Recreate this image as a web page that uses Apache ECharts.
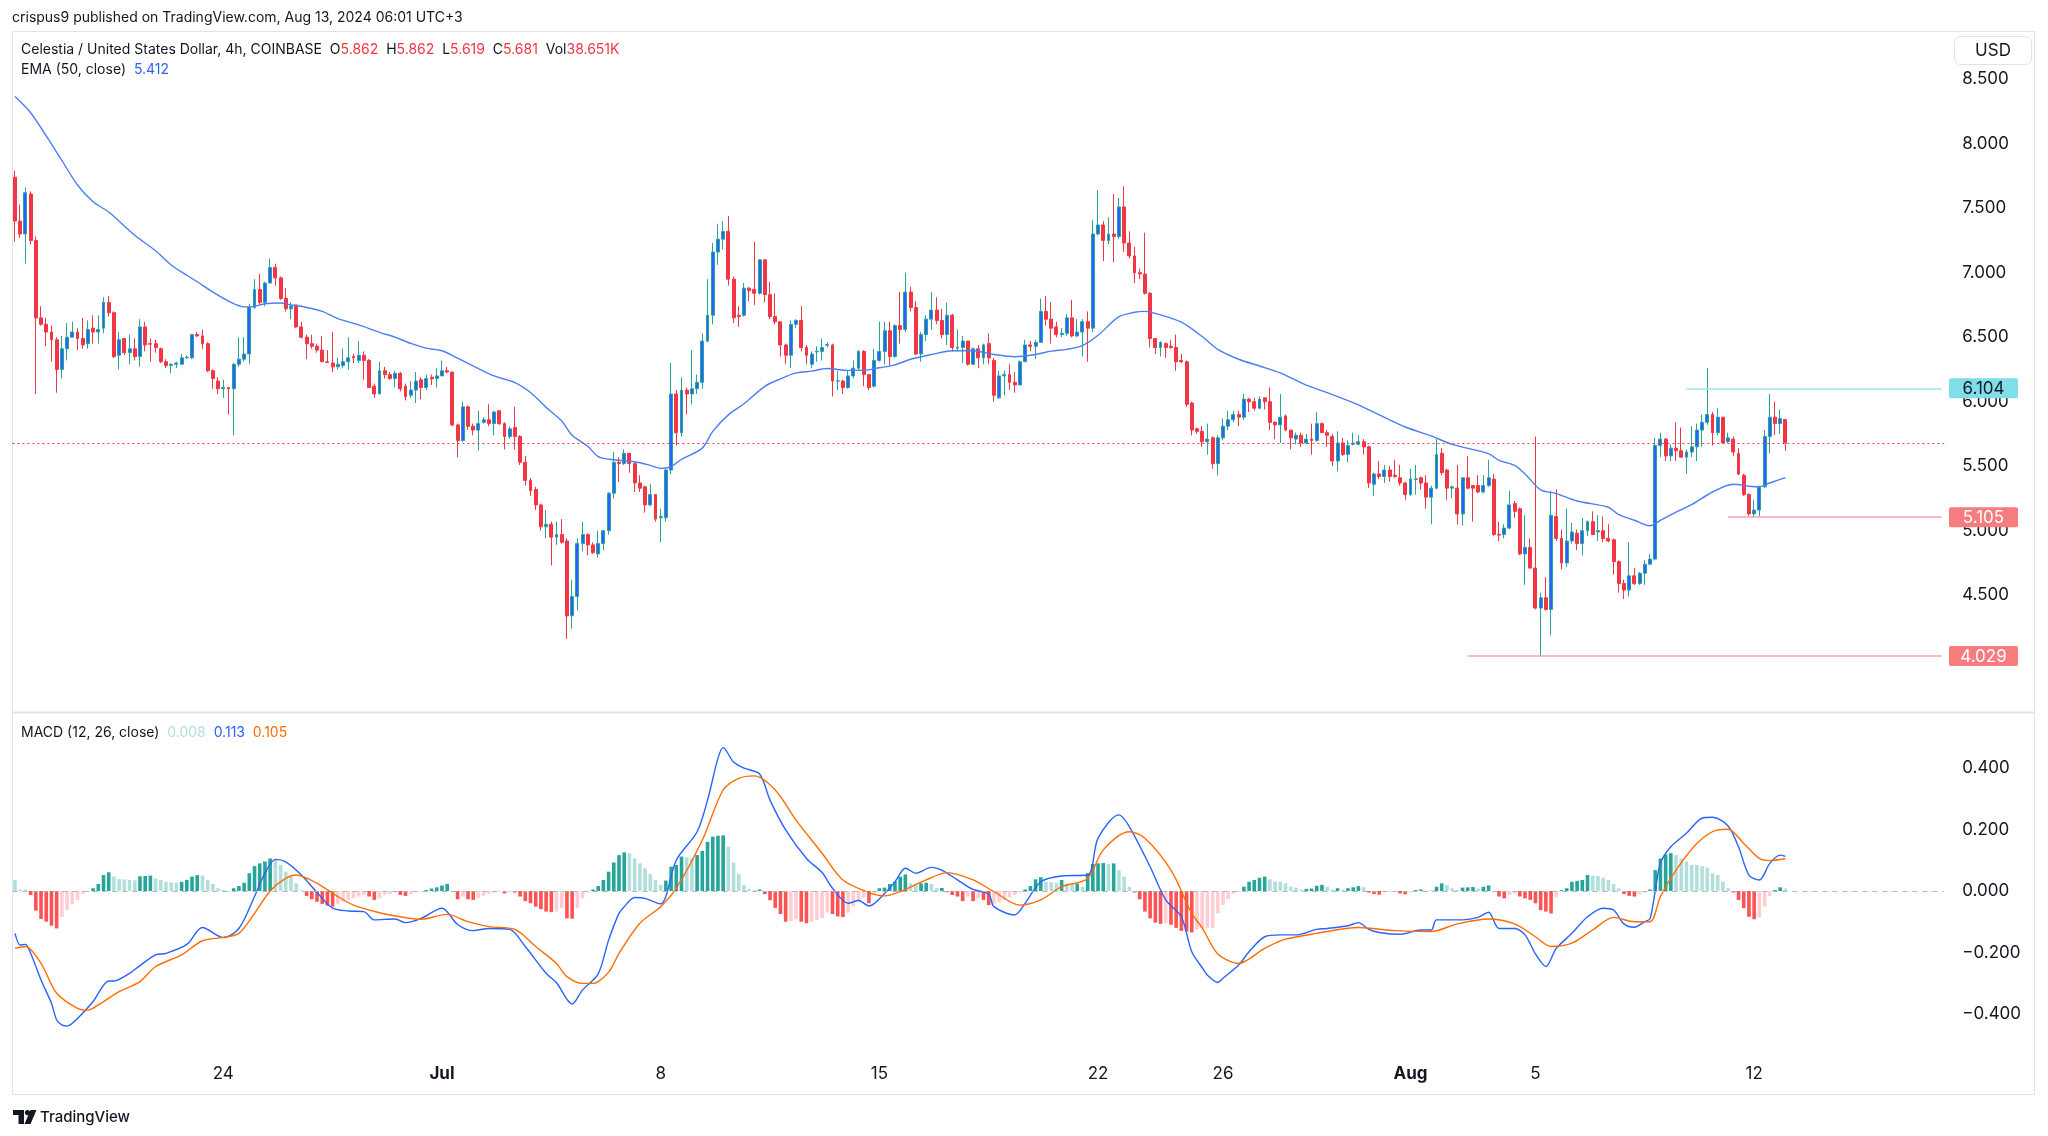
<!DOCTYPE html>
<html><head><meta charset="utf-8">
<script src="https://cdn.jsdelivr.net/npm/echarts@6/dist/echarts.min.js"></script>
<style>html,body{margin:0;padding:0;background:#fff}#c{width:2048px;height:1136px}</style>
</head><body><div id="c"></div>
<script>
// ---------- DATA ----------
const opens = [
7.74,7.40,7.30,7.61,7.25,6.65,6.60,6.54,6.48,6.25,
6.41,6.50,6.54,6.49,6.45,6.57,6.54,6.57,6.77,6.69,
6.36,6.49,6.38,6.41,6.35,6.58,6.45,6.45,6.41,6.31,
6.28,6.29,6.29,6.34,6.34,6.52,6.51,6.45,6.24,6.16,
6.10,6.11,6.10,6.29,6.33,6.37,6.73,6.87,6.77,6.92,
7.04,6.96,6.80,6.72,6.75,6.58,6.50,6.45,6.43,6.40,
6.31,6.30,6.27,6.28,6.31,6.35,6.32,6.36,6.32,6.12,
6.06,6.24,6.21,6.18,6.22,6.12,6.05,6.09,6.17,6.11,
6.19,6.18,6.20,6.24,6.23,5.82,5.70,5.96,5.81,5.78,
5.84,5.86,5.83,5.93,5.83,5.73,5.80,5.73,5.53,5.39,
5.32,5.20,5.03,5.05,4.95,4.97,4.92,4.34,4.49,4.90,
4.97,4.89,4.82,4.90,5.00,5.29,5.53,5.52,5.60,5.52,
5.37,5.34,5.20,5.28,5.10,5.10,5.47,6.06,5.76,6.09,
6.06,6.10,6.15,6.47,6.67,7.16,7.26,7.32,6.95,6.67,
6.67,6.88,6.87,6.84,7.10,6.83,6.66,6.62,6.44,6.36,
6.60,6.63,6.42,6.29,6.386,6.39,6.437,6.44,6.16,6.16,
6.11,6.20,6.26,6.39,6.21,6.12,6.32,6.39,6.55,6.35,
6.59,6.56,6.85,6.73,6.37,6.52,6.64,6.71,6.63,6.52,
6.67,6.415,6.42,6.47,6.29,6.41,6.34,6.45,6.32,6.03,
6.20,6.21,6.15,6.13,6.31,6.44,6.43,6.46,6.70,6.64,
6.58,6.52,6.53,6.65,6.51,6.54,6.62,6.57,7.30,7.37,
7.25,7.30,7.28,7.51,7.23,7.13,7.00,6.99,6.84,6.49,
6.42,6.45,6.43,6.42,6.32,6.31,5.99,5.79,5.77,5.69,
5.72,5.52,5.72,5.81,5.86,5.90,5.88,6.02,6.00,5.95,
6.03,6.00,5.84,5.82,5.89,5.78,5.71,5.74,5.68,5.71,
5.70,5.83,5.76,5.73,5.54,5.68,5.59,5.67,5.67,5.69,
5.65,5.36,5.44,5.42,5.47,5.43,5.41,5.37,5.28,5.397,
5.41,5.37,5.26,5.33,5.60,5.47,5.33,5.33,5.13,5.41,
5.35,5.35,5.30,5.35,5.40,4.972,4.97,5.02,5.21,5.17,
4.82,4.87,4.71,4.40,4.48,4.39,5.11,4.94,4.75,4.92,
4.98,4.90,5.00,5.07,4.99,5.00,4.94,4.93,4.76,4.59,
4.54,4.65,4.59,4.67,4.74,4.78,5.66,5.71,5.58,5.64,
5.62,5.57,5.61,5.65,5.78,5.84,5.90,5.76,5.88,5.69,
5.71,5.60,5.43,5.28,5.13,5.16,5.34,5.73,5.88,5.83,
5.862];
const closes = [
7.40,7.30,7.62,7.25,6.65,6.60,6.54,6.48,6.25,6.41,
6.50,6.54,6.49,6.44,6.56,6.54,6.56,6.77,6.69,6.35,
6.48,6.38,6.41,6.35,6.58,6.44,6.446,6.42,6.31,6.28,
6.29,6.30,6.34,6.345,6.52,6.51,6.45,6.24,6.18,6.10,
6.11,6.10,6.29,6.33,6.37,6.73,6.87,6.77,6.92,7.04,
6.96,6.80,6.72,6.74,6.58,6.50,6.45,6.43,6.40,6.31,
6.305,6.27,6.29,6.31,6.34,6.34,6.36,6.32,6.11,6.06,
6.24,6.21,6.18,6.22,6.10,6.04,6.09,6.16,6.11,6.18,
6.177,6.20,6.24,6.23,5.82,5.70,5.96,5.81,5.78,5.83,
5.86,5.83,5.92,5.83,5.73,5.79,5.73,5.53,5.39,5.31,
5.20,5.03,5.05,4.95,4.97,4.91,4.34,4.49,4.90,4.97,
4.89,4.83,4.90,5.00,5.29,5.53,5.52,5.60,5.52,5.37,
5.33,5.20,5.28,5.09,5.11,5.47,6.06,5.76,6.09,6.06,
6.10,6.15,6.47,6.67,7.16,7.26,7.32,6.95,6.65,6.66,
6.88,6.86,6.84,7.10,6.83,6.66,6.62,6.44,6.36,6.60,
6.63,6.42,6.36,6.37,6.392,6.42,6.443,6.16,6.162,6.11,
6.20,6.26,6.39,6.21,6.11,6.32,6.39,6.55,6.35,6.59,
6.56,6.85,6.73,6.37,6.52,6.64,6.71,6.63,6.52,6.67,
6.42,6.423,6.47,6.29,6.41,6.34,6.44,6.34,6.05,6.20,
6.21,6.15,6.13,6.31,6.44,6.43,6.46,6.70,6.64,6.57,
6.52,6.53,6.65,6.51,6.54,6.62,6.57,7.30,7.37,7.25,
7.30,7.28,7.51,7.23,7.13,7.00,6.99,6.84,6.49,6.42,
6.46,6.42,6.42,6.31,6.31,5.98,5.78,5.77,5.69,5.71,
5.52,5.72,5.81,5.86,5.90,5.88,6.02,6.00,5.95,6.02,
6.00,5.84,5.82,5.88,5.78,5.72,5.74,5.68,5.71,5.70,
5.83,5.76,5.74,5.54,5.68,5.59,5.66,5.68,5.69,5.65,
5.37,5.44,5.42,5.47,5.42,5.42,5.37,5.28,5.40,5.402,
5.37,5.26,5.33,5.59,5.45,5.33,5.34,5.13,5.41,5.33,
5.33,5.30,5.35,5.41,4.97,4.966,5.02,5.20,5.15,4.82,
4.87,4.71,4.40,4.48,4.39,5.12,4.94,4.75,4.92,4.99,
4.90,5.00,5.07,4.97,5.00,4.94,4.92,4.76,4.59,4.54,
4.65,4.59,4.67,4.74,4.78,5.66,5.71,5.58,5.64,5.62,
5.57,5.61,5.65,5.78,5.84,5.90,5.76,5.88,5.68,5.72,
5.61,5.44,5.28,5.13,5.16,5.34,5.73,5.88,5.83,5.87,
5.681];
const lows = [
7.24,7.27,7.07,7.22,6.06,6.59,6.43,6.31,6.07,6.18,
6.32,6.50,6.40,6.41,6.41,6.45,6.45,6.53,6.66,6.34,
6.25,6.36,6.29,6.32,6.27,6.39,6.31,6.38,6.30,6.26,
6.22,6.26,6.29,6.33,6.33,6.50,6.41,6.23,6.10,6.06,
6.03,5.90,5.74,6.27,6.31,6.29,6.72,6.75,6.74,6.92,
6.90,6.79,6.70,6.64,6.57,6.49,6.33,6.41,6.38,6.31,
6.30,6.23,6.25,6.26,6.25,6.30,6.30,6.17,6.11,6.03,
6.06,6.18,6.17,6.11,6.08,6.01,6.03,5.99,6.02,6.09,
6.13,6.11,6.20,6.22,5.81,5.57,5.69,5.78,5.74,5.62,
5.83,5.81,5.74,5.82,5.63,5.71,5.63,5.51,5.35,5.27,
5.16,5.00,4.94,4.73,4.89,4.90,4.16,4.24,4.38,4.84,
4.81,4.82,4.79,4.85,4.97,5.25,5.38,5.51,5.45,5.30,
5.30,5.14,5.19,5.07,4.91,5.07,5.44,5.66,5.73,5.90,
5.98,6.06,6.10,6.46,6.60,7.06,7.18,6.90,6.61,6.58,
6.66,6.78,6.75,6.83,6.77,6.64,6.60,6.35,6.29,6.26,
6.57,6.39,6.29,6.26,6.31,6.32,6.42,6.04,6.09,6.06,
6.10,6.18,6.24,6.12,6.09,6.11,6.31,6.29,6.28,6.34,
6.45,6.54,6.70,6.36,6.31,6.47,6.56,6.60,6.49,6.44,
6.39,6.39,6.30,6.28,6.29,6.26,6.29,6.29,6.00,6.02,
6.05,6.09,6.07,6.13,6.31,6.39,6.33,6.46,6.59,6.45,
6.50,6.50,6.51,6.50,6.50,6.35,6.31,6.54,7.29,7.09,
7.22,7.08,7.26,7.16,7.11,6.92,6.95,6.83,6.42,6.37,
6.35,6.34,6.41,6.24,6.30,5.96,5.74,5.75,5.65,5.59,
5.48,5.43,5.70,5.78,5.84,5.81,5.86,5.92,5.93,5.94,
5.94,5.78,5.71,5.68,5.77,5.63,5.67,5.65,5.67,5.59,
5.69,5.76,5.65,5.50,5.46,5.58,5.53,5.66,5.66,5.59,
5.33,5.27,5.40,5.37,5.38,5.41,5.35,5.24,5.27,5.28,
5.32,5.17,5.05,5.32,5.43,5.24,5.25,5.05,5.04,5.32,
5.07,5.29,5.29,5.34,4.96,4.92,4.94,5.01,5.10,4.81,
4.58,4.71,4.39,4.029,4.38,4.19,4.92,4.70,4.72,4.90,
4.85,4.81,4.96,4.97,4.92,4.91,4.91,4.66,4.52,4.47,
4.49,4.58,4.58,4.58,4.74,4.77,5.57,5.54,5.54,5.54,
5.57,5.44,5.57,5.54,5.65,5.82,5.66,5.74,5.68,5.68,
5.58,5.43,5.27,5.116,5.105,5.11,5.33,5.60,5.74,5.75,
5.619];
const highs = [
7.79,7.53,7.66,7.63,7.28,6.74,6.65,6.59,6.50,6.51,
6.61,6.62,6.57,6.65,6.63,6.67,6.67,6.81,6.82,6.70,
6.54,6.49,6.52,6.49,6.64,6.62,6.49,6.48,6.42,6.33,
6.30,6.31,6.37,6.36,6.52,6.54,6.56,6.46,6.25,6.19,
6.17,6.11,6.30,6.50,6.50,6.76,6.95,6.99,6.93,7.11,
7.07,6.97,6.88,6.77,6.75,6.62,6.52,6.52,6.45,6.51,
6.40,6.54,6.34,6.41,6.50,6.37,6.47,6.39,6.33,6.14,
6.31,6.27,6.23,6.24,6.23,6.14,6.16,6.23,6.19,6.21,
6.21,6.26,6.32,6.27,6.23,5.83,6.00,5.97,5.83,5.93,
5.88,5.98,5.93,5.93,5.84,5.81,5.96,5.74,5.58,5.41,
5.34,5.21,5.16,5.07,5.07,5.09,4.94,4.62,4.94,5.07,
4.98,4.91,5.00,5.00,5.30,5.61,5.57,5.63,5.60,5.53,
5.43,5.35,5.36,5.28,5.17,5.48,6.30,6.09,6.19,6.11,
6.40,6.21,6.53,6.95,7.23,7.38,7.40,7.44,6.97,6.74,
6.92,6.89,7.24,7.10,7.10,6.93,6.84,6.62,6.45,6.63,
6.64,6.74,6.44,6.39,6.43,6.49,6.46,6.45,6.24,6.17,
6.24,6.32,6.40,6.40,6.21,6.41,6.62,6.62,6.62,6.60,
6.85,7.00,6.89,6.78,6.54,6.67,6.85,6.81,6.72,6.77,
6.68,6.56,6.51,6.47,6.42,6.44,6.45,6.53,6.34,6.24,
6.24,6.29,6.23,6.32,6.48,6.47,6.48,6.80,6.82,6.77,
6.62,6.57,6.68,6.79,6.64,6.64,6.70,7.41,7.64,7.40,
7.43,7.61,7.58,7.67,7.32,7.20,7.03,7.31,6.85,6.49,
6.47,6.46,6.48,6.52,6.37,6.32,6.00,5.80,5.81,5.83,
5.73,5.74,5.87,5.93,5.93,5.93,6.06,6.03,6.03,6.04,
6.03,6.11,5.85,6.06,5.90,5.78,5.76,5.76,5.75,5.83,
5.92,5.84,5.78,5.75,5.77,5.72,5.70,5.76,5.74,5.71,
5.66,5.45,5.54,5.51,5.50,5.55,5.51,5.38,5.48,5.51,
5.42,5.43,5.35,5.71,5.64,5.48,5.35,5.51,5.41,5.58,
5.35,5.43,5.43,5.55,5.44,5.07,5.05,5.31,5.23,5.18,
5.12,4.94,5.73,4.52,4.64,5.31,5.32,5.01,5.17,5.06,
5.01,5.10,5.08,5.15,5.12,5.11,5.05,4.94,4.77,4.62,
4.91,4.71,4.68,4.77,4.82,5.72,5.76,5.72,5.67,5.84,
5.80,5.63,5.81,5.83,5.90,6.26,5.92,5.95,5.88,5.76,
5.73,5.64,5.44,5.29,5.24,5.35,5.78,6.06,6.00,5.94,
5.862];

// EMA(50) sampled along the line: [candle index, value]
const emaPts = [[0,8.365],[3,8.24],[6,8.06],[9,7.87],[12,7.68],[15,7.55],[18,7.47],[23,7.29],[27,7.17],[30,7.06],[33,6.98],[35,6.93],[38,6.85],[41,6.78],[44,6.735],[46,6.739],[48,6.759],[51,6.765],[53,6.75],[55,6.74],[59,6.70],[62,6.644],[66,6.595],[70,6.538],[73,6.50],[76,6.452],[79,6.415],[82,6.395],[85,6.337],[89,6.257],[92,6.20],[96,6.148],[99,6.071],[102,5.956],[105,5.85],[107,5.74],[110,5.654],[112,5.574],[114,5.554],[116,5.546],[119,5.534],[122,5.506],[124,5.483],[126,5.497],[128,5.554],[132,5.64],[134,5.77],[137,5.898],[140,5.984],[144,6.119],[147,6.177],[150,6.223],[153,6.237],[156,6.257],[160,6.243],[163,6.243],[166,6.263],[169,6.286],[172,6.329],[176,6.366],[180,6.395],[184,6.395],[188,6.366],[192,6.349],[196,6.366],[199,6.392],[202,6.406],[205,6.435],[208,6.515],[212,6.659],[215,6.693],[217,6.70],[220,6.673],[224,6.616],[228,6.505],[231,6.406],[235,6.329],[239,6.277],[243,6.223],[248,6.128],[252,6.071],[258,5.976],[262,5.898],[267,5.804],[272,5.735],[276,5.669],[283,5.597],[285,5.546],[288,5.506],[290,5.44],[293,5.317],[296,5.288],[300,5.23],[306,5.182],[308,5.124],[311,5.081],[314,5.038],[316,5.08],[319,5.144],[322,5.202],[326,5.30],[330,5.36],[333,5.345],[335,5.34],[337,5.37],[340,5.412]];

// MACD line and signal line: [candle index, value]
const macdPts = [[0,-0.138],[1,-0.176],[2,-0.174],[3,-0.203],[5,-0.29],[7,-0.366],[8,-0.42],[9,-0.436],[10,-0.44],[12,-0.415],[15,-0.36],[18,-0.293],[19,-0.293],[22,-0.268],[24,-0.243],[27,-0.208],[29,-0.203],[33,-0.174],[36,-0.119],[40,-0.152],[43,-0.122],[46,-0.018],[48,0.058],[50,0.103],[52,0.095],[55,0.052],[58,-0.005],[61,-0.056],[64,-0.065],[67,-0.067],[69,-0.094],[73,-0.091],[75,-0.103],[78,-0.089],[82,-0.056],[85,-0.109],[88,-0.129],[91,-0.122],[95,-0.125],[98,-0.181],[102,-0.268],[104,-0.299],[107,-0.368],[109,-0.322],[112,-0.27],[114,-0.16],[116,-0.073],[117,-0.051],[119,-0.021],[121,-0.024],[124,-0.042],[125,-0.018],[127,0.1],[131,0.193],[133,0.296],[135,0.432],[136,0.467],[138,0.42],[140,0.40],[143,0.381],[145,0.296],[148,0.199],[152,0.106],[155,0.06],[157,0.009],[160,-0.04],[162,-0.031],[164,-0.049],[167,-0.008],[169,0.03],[171,0.074],[173,0.058],[176,0.077],[178,0.068],[181,0.036],[184,0.005],[187,-0.01],[188,-0.051],[192,-0.078],[194,-0.04],[197,0.03],[201,0.049],[206,0.052],[208,0.172],[212,0.248],[214,0.21],[218,0.079],[221,-0.029],[224,-0.084],[226,-0.198],[228,-0.25],[229,-0.274],[231,-0.298],[232,-0.284],[235,-0.241],[237,-0.198],[240,-0.149],[243,-0.143],[246,-0.143],[250,-0.125],[252,-0.122],[256,-0.113],[258,-0.103],[260,-0.125],[262,-0.135],[266,-0.141],[270,-0.127],[272,-0.127],[273,-0.094],[278,-0.094],[281,-0.086],[283,-0.069],[285,-0.122],[288,-0.122],[290,-0.143],[292,-0.205],[294,-0.246],[296,-0.187],[299,-0.138],[302,-0.084],[305,-0.056],[307,-0.062],[309,-0.107],[311,-0.118],[313,-0.1],[314,-0.09],[315,0.0],[316,0.09],[318,0.144],[321,0.188],[324,0.237],[326,0.24],[329,0.212],[331,0.144],[333,0.052],[335,0.036],[337,0.09],[339,0.117],[340,0.113]];
const signalPts = [[0,-0.187],[2,-0.181],[5,-0.236],[8,-0.333],[12,-0.382],[14,-0.388],[16,-0.371],[20,-0.328],[24,-0.295],[27,-0.246],[32,-0.208],[36,-0.162],[40,-0.151],[43,-0.138],[46,-0.073],[49,0.0],[52,0.041],[54,0.052],[58,0.025],[62,-0.018],[65,-0.046],[70,-0.071],[74,-0.084],[78,-0.092],[83,-0.076],[87,-0.1],[91,-0.116],[96,-0.125],[100,-0.181],[104,-0.236],[106,-0.279],[109,-0.301],[111,-0.301],[112,-0.295],[114,-0.265],[115,-0.236],[116,-0.203],[120,-0.105],[124,-0.051],[127,0.009],[132,0.166],[136,0.329],[139,0.367],[142,0.375],[146,0.329],[150,0.231],[155,0.123],[159,0.036],[164,-0.005],[167,-0.016],[170,-0.002],[175,0.036],[179,0.06],[184,0.036],[188,-0.002],[193,-0.046],[197,-0.029],[201,0.014],[206,0.041],[209,0.134],[214,0.193],[217,0.172],[222,0.068],[226,-0.073],[228,-0.12],[231,-0.205],[235,-0.236],[240,-0.187],[244,-0.157],[250,-0.138],[258,-0.119],[265,-0.129],[272,-0.132],[277,-0.107],[283,-0.091],[288,-0.107],[292,-0.149],[295,-0.181],[299,-0.17],[303,-0.127],[307,-0.086],[311,-0.1],[314,-0.1],[316,-0.018],[319,0.068],[323,0.155],[327,0.199],[329,0.201],[332,0.155],[335,0.106],[337,0.099],[340,0.105]];

// MACD histogram, one value per candle
const histVals = [
0.036,0.005,0.005,-0.013,-0.064,-0.091,-0.1,-0.113,-0.122,-0.084,
-0.062,-0.042,-0.029,-0.01,-0.004,0.009,0.023,0.052,0.061,0.047,
0.039,0.038,0.036,0.035,0.048,0.049,0.05,0.041,0.036,0.03,
0.028,0.027,0.03,0.036,0.047,0.052,0.05,0.036,0.023,0.009,
0.003,-0.001,0.009,0.016,0.027,0.058,0.081,0.09,0.096,0.106,
0.101,0.085,0.063,0.047,0.025,0.003,-0.016,-0.027,-0.035,-0.042,
-0.048,-0.051,-0.042,-0.035,-0.029,-0.024,-0.018,-0.013,-0.018,-0.029,
-0.024,-0.013,-0.01,-0.005,-0.013,-0.016,-0.01,-0.005,-0.002,0.003,
0.008,0.012,0.018,0.023,-0.002,-0.027,-0.018,-0.027,-0.029,-0.024,
-0.016,-0.01,-0.005,-0.002,-0.008,-0.004,-0.005,-0.018,-0.033,-0.04,
-0.051,-0.059,-0.067,-0.069,-0.067,-0.056,-0.089,-0.09,-0.056,-0.024,
-0.005,0.005,0.016,0.036,0.063,0.093,0.117,0.126,0.123,0.106,
0.09,0.074,0.055,0.036,0.02,0.034,0.079,0.085,0.112,0.11,
0.108,0.117,0.131,0.16,0.177,0.18,0.181,0.144,0.093,0.055,
0.02,0.007,0.003,0.005,-0.01,-0.03,-0.055,-0.075,-0.1,-0.098,
-0.092,-0.1,-0.105,-0.1,-0.095,-0.088,-0.07,-0.075,-0.083,-0.085,
-0.07,-0.05,-0.03,-0.02,-0.04,-0.01,0.009,0.011,0.023,0.03,
0.047,0.054,0.025,0.024,0.025,0.027,0.023,0.009,0.01,-0.004,
-0.013,-0.018,-0.033,-0.018,-0.033,-0.024,-0.029,-0.046,-0.042,-0.038,
-0.029,-0.021,-0.013,-0.005,0.005,0.016,0.038,0.045,0.03,0.029,
0.027,0.036,0.025,0.023,0.024,0.014,0.058,0.088,0.09,0.091,
0.088,0.09,0.068,0.047,0.014,-0.005,-0.027,-0.067,-0.089,-0.103,
-0.107,-0.105,-0.11,-0.12,-0.13,-0.132,-0.135,-0.125,-0.122,-0.121,
-0.12,-0.073,-0.046,-0.026,-0.008,-0.003,0.014,0.03,0.036,0.043,
0.047,0.038,0.031,0.03,0.025,0.014,0.011,0.005,0.007,0.008,
0.017,0.02,0.014,0.005,0.009,0.005,0.009,0.012,0.016,0.012,
-0.005,-0.01,-0.012,-0.005,-0.004,-0.003,-0.008,-0.011,-0.003,0.003,
0.005,-0.003,0.001,0.014,0.025,0.02,0.009,0.003,0.011,0.012,
0.013,0.008,0.014,0.018,-0.002,-0.018,-0.024,-0.013,-0.008,-0.018,
-0.024,-0.029,-0.04,-0.062,-0.067,-0.073,-0.02,0.003,0.009,0.03,
0.033,0.036,0.052,0.05,0.049,0.043,0.036,0.023,0.009,-0.01,
-0.016,-0.018,-0.01,-0.005,0.005,0.068,0.106,0.119,0.123,0.117,
0.106,0.096,0.085,0.084,0.081,0.076,0.058,0.052,0.03,0.009,
-0.005,-0.029,-0.056,-0.084,-0.092,-0.086,-0.051,-0.016,0.003,0.012,
0.008];

// Horizontal levels drawn on the chart
const levelValues = [6.104, 5.105, 4.029];
const levelFrom = [321, 329, 279];
const lastPrice = 5.681;

// Time axis ticks
const dayTickIndex = [40, 82, 124, 166, 208, 232, 268, 292, 334];
const dayTickText = ['24', 'Jul', '8', '15', '22', '26', 'Aug', '5', '12'];
const boldTicks = ['Jul', 'Aug'];

// Legend texts
const headerText = 'crispus9 published on TradingView.com, Aug 13, 2024 06:01 UTC+3';
const symbolText = 'Celestia / United States Dollar, 4h, COINBASE';
const ohlcvLabels = ['O', 'H', 'L', 'C', 'Vol'];
const ohlcvValues = ['5.862', '5.862', '5.619', '5.681', '38.651K'];
const emaLegend = ['EMA (50, close)', '5.412'];
const macdLegend = ['MACD (12, 26, close)', '0.008', '0.113', '0.105'];

// ---------- CHART ----------
const FONT = 'Inter, "Noto Sans", Roboto, sans-serif';
const TXT = '#131722';
const PAD = 30; // empty bars on the right like TradingView
const N = opens.length;
const categories = Array.from({length: N + PAD}, (_, i) => String(i));
const candleData = opens.map((o, i) => [o, closes[i], lows[i], highs[i]]);

function histColor(i) {
  const v = histVals[i], p = i > 0 ? histVals[i - 1] : v;
  if (v >= 0) return v > p ? '#26A69A' : '#B2DFDB';
  return v < p ? '#FF5252' : '#FFCDD2';
}
const histData = histVals.map((v, i) => ({value: v, itemStyle: {color: histColor(i)}}));

const tickSet = new Set(dayTickIndex);
const levelStyle = [
  {line: '#9fe3ec', tag: '#80DEEA', text: TXT},
  {line: '#f6a3a6', tag: '#F77C80', text: '#ffffff'},
  {line: '#f6a3a6', tag: '#F77C80', text: '#ffffff'}
];

function rs(color) { return {fontSize: 14, fontWeight: 'normal', color: color, fontFamily: FONT}; }

let ohlcvRich = '';
ohlcvLabels.forEach((l, i) => { ohlcvRich += '  {n|' + l + '}{r|' + ohlcvValues[i] + '}'; });

const chart = echarts.init(document.getElementById('c'));
const option = {
  animation: false,
  backgroundColor: '#ffffff',
  textStyle: {fontFamily: FONT},
  title: [
    {left: 12, top: 11, padding: 0, text: headerText,
     textStyle: {fontSize: 14, fontWeight: 'normal', color: TXT, fontFamily: FONT}},
    {left: 21, top: 43, padding: 0, text: '{n|' + symbolText + '}' + ohlcvRich,
     textStyle: {fontSize: 14, fontWeight: 'normal', rich: {n: rs(TXT), r: rs('#F23645')}}},
    {left: 21, top: 63, padding: 0, text: '{n|' + emaLegend[0] + '}  {b|' + emaLegend[1] + '}',
     textStyle: {fontSize: 14, fontWeight: 'normal', rich: {n: rs(TXT), b: rs('#2962FF')}}},
    {left: 21, top: 726, padding: 0,
     text: '{n|' + macdLegend[0] + '}  {h|' + macdLegend[1] + '}  {m|' + macdLegend[2] + '}  {s|' + macdLegend[3] + '}',
     textStyle: {fontSize: 14, fontWeight: 'normal',
       rich: {n: rs(TXT), h: rs('#B2DFDB'), m: rs('#2962FF'), s: rs('#FF6D00')}}}
  ],
  grid: [
    {left: 12.4, right: 103.8, top: 14.7, height: 709.5},
    {left: 12.4, right: 103.8, top: 706.8, height: 337.7}
  ],
  xAxis: [
    {type: 'category', gridIndex: 0, data: categories, boundaryGap: true,
     axisLine: {show: false}, axisTick: {show: false}, axisLabel: {show: false}, splitLine: {show: false}},
    {type: 'category', gridIndex: 1, data: categories, boundaryGap: true,
     axisLine: {show: false}, axisTick: {show: false}, splitLine: {show: false},
     axisLabel: {
       show: true, margin: 21, fontSize: 17, color: TXT, fontFamily: FONT,
       interval: (idx) => tickSet.has(idx),
       formatter: (val) => {
         const k = dayTickIndex.indexOf(Number(val));
         if (k < 0) return '';
         const t = dayTickText[k];
         return boldTicks.includes(t) ? '{b|' + t + '}' : t;
       },
       rich: {b: {fontSize: 17, fontWeight: 'bold', color: TXT, fontFamily: FONT}}
     }}
  ],
  yAxis: [
    {type: 'value', gridIndex: 0, position: 'right', min: 3.5, max: 9.0, interval: 0.5,
     axisLine: {show: false}, axisTick: {show: false}, splitLine: {show: false},
     axisLabel: {margin: 18, fontSize: 17, color: TXT, fontFamily: FONT,
       formatter: (v) => (v < 4.4 || v > 8.6) ? '' : v.toFixed(3)}},
    {type: 'value', gridIndex: 1, position: 'right', min: -0.5, max: 0.6, interval: 0.1,
     axisLine: {show: false}, axisTick: {show: false}, splitLine: {show: false},
     axisLabel: {margin: 18, fontSize: 17, color: TXT, fontFamily: FONT,
       formatter: (v) => {
         const k = Math.round(v * 10);
         if (k % 2 !== 0 || Math.abs(k) > 4) return '';
         const s = Math.abs(k / 10).toFixed(3);
         return k < 0 ? '\u2212' + s : s;
       }}}
  ],
  series: [
    {type: 'candlestick', name: 'price', xAxisIndex: 0, yAxisIndex: 0, data: candleData,
     barWidth: 3.4,
     itemStyle: {color: '#2962FF', color0: '#F23645', borderColor: '#26A69A', borderColor0: '#F23645', borderWidth: 1},
     markLine: {
       silent: true, symbol: ['none', 'none'], label: {show: false},
       data: [
         {yAxis: lastPrice, lineStyle: {color: '#F23645', type: [2, 3], width: 1}},
         ...levelValues.map((v, i) => [
           {coord: [String(levelFrom[i]), v], lineStyle: {color: levelStyle[i].line, type: 'solid', width: 1.5}},
           {coord: [String(N + PAD - 1), v]}
         ])
       ]
     }},
    {type: 'line', name: 'ema', xAxisIndex: 0, yAxisIndex: 0, data: emaPts, showSymbol: false,
     smooth: 0.3, lineStyle: {color: '#4C7DF6', width: 1.4}, z: 3},
    {type: 'bar', name: 'hist', xAxisIndex: 1, yAxisIndex: 1, data: histData, barWidth: 3.6,
     markLine: {silent: true, symbol: ['none', 'none'], label: {show: false},
       data: [{yAxis: 0}], lineStyle: {color: '#B2B5BE', type: [5, 5], width: 1}}, z: 1},
    {type: 'line', name: 'macd', xAxisIndex: 1, yAxisIndex: 1, data: macdPts, showSymbol: false,
     smooth: 0.3, lineStyle: {color: '#2962FF', width: 1.4}, z: 3},
    {type: 'line', name: 'signal', xAxisIndex: 1, yAxisIndex: 1, data: signalPts, showSymbol: false,
     smooth: 0.3, lineStyle: {color: '#FF6D00', width: 1.4}, z: 3}
  ]
};
chart.setOption(option);

// ---------- FRAME, AXIS BADGES, LOGO ----------
const g = [
  {type: 'rect', silent: true, z: 0, shape: {x: 12.5, y: 31.5, width: 2022, height: 1063},
   style: {fill: 'none', stroke: '#E0E3EB', lineWidth: 1}},
  {type: 'line', silent: true, z: 0, shape: {x1: 12, y1: 712.5, x2: 2035, y2: 712.5},
   style: {stroke: '#E0E3EB', lineWidth: 2}},
  {type: 'rect', silent: true, z: 10, shape: {x: 1954.5, y: 36.5, width: 77, height: 28, r: 6},
   style: {fill: '#ffffff', stroke: '#E0E3EB', lineWidth: 1}},
  {type: 'text', silent: true, z: 11, x: 1993, y: 50.5,
   style: {text: 'USD', fill: TXT, fontSize: 17, fontFamily: FONT, align: 'center', verticalAlign: 'middle'}},
  // TradingView logo
  {type: 'polygon', silent: true, z: 10, shape: {points: [[13,1110],[24,1110],[24,1124],[18.5,1124],[18.5,1115],[13,1115]]},
   style: {fill: TXT}},
  {type: 'circle', silent: true, z: 10, shape: {cx: 27.5, cy: 1112.6, r: 2.6}, style: {fill: TXT}},
  {type: 'polygon', silent: true, z: 10, shape: {points: [[30.5,1110],[36.5,1110],[30.5,1124],[24.5,1124]]},
   style: {fill: TXT}},
  {type: 'text', silent: true, z: 10, x: 40, y: 1117.5,
   style: {text: 'TradingView', fill: TXT, fontSize: 15, fontWeight: 500, fontFamily: FONT, verticalAlign: 'middle'}}
];
levelValues.forEach((v, i) => {
  const y = chart.convertToPixel({yAxisIndex: 0}, v);
  g.push({type: 'rect', silent: true, z: 12, shape: {x: 1949, y: y - 10, width: 69, height: 20, r: 2},
          style: {fill: levelStyle[i].tag}});
  g.push({type: 'text', silent: true, z: 13, x: 1983.5, y: y + 0.5,
          style: {text: v.toFixed(3), fill: levelStyle[i].text, fontSize: 17, fontFamily: FONT,
                  align: 'center', verticalAlign: 'middle'}});
});
chart.setOption({graphic: g});
</script>
</body></html>
